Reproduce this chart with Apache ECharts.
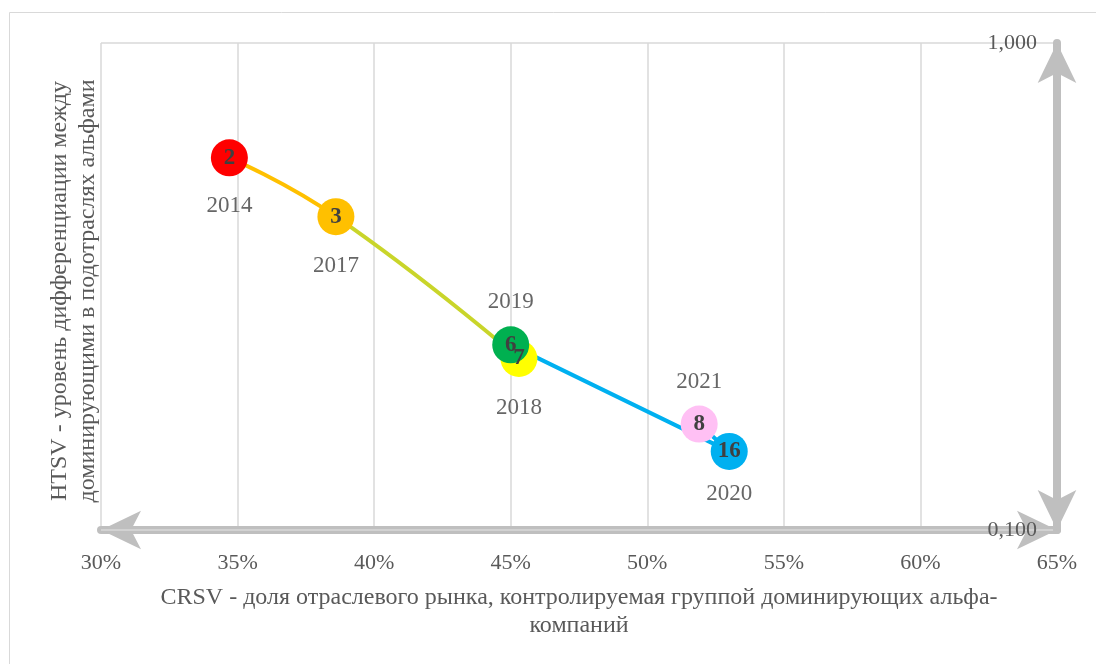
<!DOCTYPE html>
<html>
<head>
<meta charset="utf-8">
<script src="https://cdn.jsdelivr.net/npm/echarts@6/dist/echarts.min.js"></script>
<style>
html,body{margin:0;padding:0;background:#fff;}
#chart{width:1096px;height:664px;}
</style>
</head>
<body>
<div id="chart"></div>
<script>
// ---- data (chronological order) ----
var years = ['2014', '2017', '2018', '2019', '2020', '2021'];
var crsv = [34.7, 38.6, 45.3, 45.0, 53.0, 51.9];          // % share of market
var htsv = [0.581, 0.440, 0.225, 0.240, 0.145, 0.165];     // differentiation level
var counts = [2, 3, 7, 6, 16, 8];                          // number shown in bubble
var xTicks = { min: 30, max: 65, step: 5 };
var yTicks = { min: 0.1, max: 1 };
var xTitle = 'CRSV - доля отраслевого рынка, контролируемая группой доминирующих альфа-\nкомпаний';
var yTitle = 'HTSV - уровень дифференциации между\nдоминирующими в подотраслях альфами';

// ---- styles ----
var markerColors = ['#FF0000', '#FFC000', '#FFFF00', '#00B050', '#00B0F0', '#FFC0F4'];
var yearLabelPlace = [['bottom', 18], ['bottom', 19], ['bottom', 19], ['top', 13], ['bottom', 13], ['top', 12]];
var serif = '"Liberation Serif", "Times New Roman", serif';

var pts = crsv.map(function (x, i) { return [x, htsv[i]]; });

var chart = echarts.init(document.getElementById('chart'), null, { renderer: 'canvas' });
chart.setOption({
  animation: false,
  backgroundColor: '#fff',
  grid: { left: 101, right: 39, top: 43, bottom: 134, containLabel: false },
  xAxis: {
    type: 'value', min: xTicks.min, max: xTicks.max, interval: xTicks.step,
    position: 'bottom', z: 1,
    axisLine: { show: true, onZero: false, symbol: ['arrow', 'arrow'], symbolSize: [29, 40], symbolOffset: [0, 0],
      lineStyle: { color: '#BFBFBF', width: 8 } },
    axisTick: { show: false },
    axisLabel: { margin: 22, color: '#595959', fontFamily: serif, fontSize: 22,
      formatter: function (v) { return v + '%'; } },
    splitLine: { show: true, lineStyle: { color: '#D9D9D9', width: 1.5 } }
  },
  yAxis: {
    type: 'log', logBase: 10, min: yTicks.min, max: yTicks.max,
    position: 'right', z: 5,
    axisLine: { show: true, onZero: false, symbol: ['arrow', 'arrow'], symbolSize: [29, 40], symbolOffset: [0, 0],
      lineStyle: { color: '#BFBFBF', width: 8 } },
    axisTick: { show: false },
    minorTick: { show: false },
    axisLabel: { inside: true, margin: 20, color: '#595959', fontFamily: serif, fontSize: 22,
      formatter: function (v) { return v.toFixed(3).replace('.', ','); } },
    splitLine: { show: true, lineStyle: { color: '#D9D9D9', width: 1.5 } }
  },
  visualMap: {
    type: 'piecewise', show: false, dimension: 0, seriesIndex: 0,
    pieces: [
      { lt: 38.6, color: '#FFC000' },
      { gte: 38.6, lt: 45.2, color: '#C9D52A' },
      { gte: 45.2, color: '#00B0F0' }
    ]
  },
  series: [
    {
      type: 'line', data: pts, smooth: 0.5, symbol: 'none', z: 2,
      lineStyle: { width: 4 }
    },
    {
      type: 'scatter', z: 3, symbol: 'circle', symbolSize: 37,
      data: pts.map(function (p, i) {
        return { value: p, itemStyle: { color: markerColors[i], opacity: 1 } };
      }),
      label: {
        show: true, position: 'inside', color: '#404040', fontFamily: serif, fontSize: 23, fontWeight: 700,
        formatter: function (p) { return String(counts[p.dataIndex]); }
      }
    },
    {
      type: 'scatter', z: 4, symbol: 'circle', symbolSize: 37, silent: true,
      itemStyle: { color: 'rgba(0,0,0,0)' },
      data: pts.map(function (p, i) {
        return { value: p, label: { position: yearLabelPlace[i][0], distance: yearLabelPlace[i][1] } };
      }),
      label: {
        show: true, color: '#404040', fontFamily: serif, fontSize: 23,
        formatter: function (p) { return years[p.dataIndex]; }
      }
    }
  ],
  graphic: [
    { type: 'rect', z: -10, shape: { x: 9.5, y: 12.5, width: 1100, height: 700 },
      style: { fill: 'none', stroke: '#D9D9D9', lineWidth: 1 } },
    { type: 'text', x: 579, y: 612,
      style: { text: xTitle, x: 0, y: 0, align: 'center', verticalAlign: 'middle', fill: '#595959',
        font: '24px ' + serif, lineHeight: 28 } },
    { type: 'text', x: 74, y: 291, rotation: Math.PI / 2,
      style: { text: yTitle, x: 0, y: 0, align: 'center', verticalAlign: 'middle', fill: '#595959',
        font: '24px ' + serif, lineHeight: 28 } }
  ]
});
</script>
</body>
</html>
